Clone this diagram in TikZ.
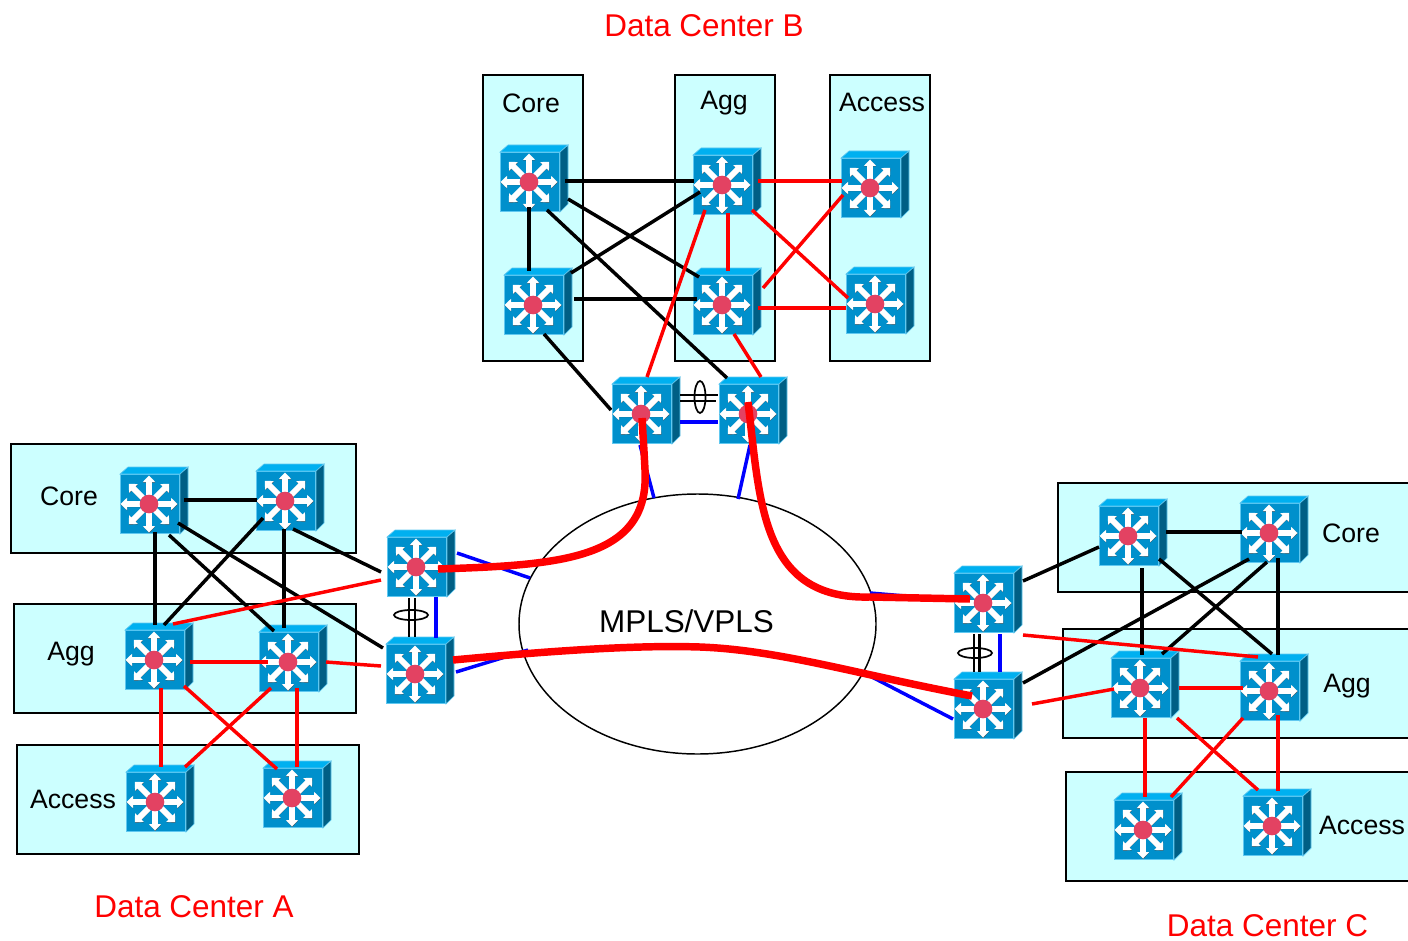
\documentclass[tikz,border=0pt]{standalone}
\usepackage{fontspec}
\setmainfont{Liberation Sans}
\definecolor{boxcyan}{HTML}{CCFFFF}
\definecolor{swface}{HTML}{0090CC}
\definecolor{swtop}{HTML}{00B0F0}
\definecolor{swside}{HTML}{005F85}
\definecolor{swedge}{HTML}{60C8F0}
\definecolor{swhub}{HTML}{E34262}
\definecolor{linkblue}{HTML}{0000FF}
\definecolor{linkred}{HTML}{FF0000}
\tikzset{
  x=.75pt,y=-.75pt,
  zonebox/.style={draw=black,fill=boxcyan,line width=1.1pt},
  swfront/.style={draw=swedge,fill=swface,line width=.7pt,minimum size=44.5pt,inner sep=0pt,outer sep=0pt},
  blk/.style={draw=black,line width=2.6pt},
  rd/.style={draw=linkred,line width=2.6pt},
  blu/.style={draw=linkblue,line width=2.6pt},
  pairline/.style={draw=black,line width=1.6pt},
  thickred/.style={draw=linkred,line width=5.6pt},
  bundle/.style={draw=black,line width=1.3pt},
  lbl/.style={font=\fontsize{20}{24}\selectfont,inner sep=0pt},
  bigred/.style={font=\fontsize{23.6}{28}\selectfont,text=linkred,inner sep=0pt},
  biglbl/.style={font=\fontsize{23.6}{28}\selectfont,inner sep=0pt},
  cloud/.style={draw=black,line width=1.1pt}
}
\newcommand{\swt}[3]{%
  \node[swfront] (#1) at (#2,#3) {};
  \begin{scope}[shift={(#2,#3)}]
    \fill[swtop,draw=swedge,line width=.5pt] (-30,-30) -- (-22,-37) -- (38,-37) -- (30,-30) -- cycle;
    \fill[swside,draw=swedge,line width=.5pt] (30,-30) -- (38,-37) -- (38,22) -- (30,30) -- cycle;
    \foreach \a in {0,45,...,315}{
      \fill[black!70,shift={(.2,.5)},rotate around={\a:(-1,0)}] (8,-2.6) -- (21,-2.6) -- (21,-6) -- (27.5,0) -- (21,6) -- (21,2.6) -- (8,2.6) -- cycle;
      \fill[white,rotate around={\a:(-1,0)}] (8,-2.9) -- (21,-2.9) -- (21,-6.2) -- (27.5,0) -- (21,6.2) -- (21,2.9) -- (8,2.9) -- cycle;
    }
    \fill[swhub] (-1,0) circle[radius=9.3];
  \end{scope}}
\newcommand{\lnk}[7]{\draw[#1] ([shift={(#3,#4)}]#2.center) -- ([shift={(#6,#7)}]#5.center);}
\begin{document}
\begin{tikzpicture}
\useasboundingbox (0,0) rectangle (1408,941);
% zones
\path[zonebox] (483,75) rectangle (583,361);
\path[zonebox] (675,75) rectangle (775,361);
\path[zonebox] (830,75) rectangle (930,361);
\path[zonebox] (11,444) rectangle (356,553);
\path[zonebox] (14,604) rectangle (356,713);
\path[zonebox] (17,745) rectangle (359,854);
\begin{scope}
\clip (0,0) rectangle (1408,941);
\path[zonebox] (1058,483) rectangle (1420,592);
\path[zonebox] (1063,629) rectangle (1420,738);
\path[zonebox] (1066,772) rectangle (1420,881);
\end{scope}
% cloud
\coordinate (mp) at (697.5,624);
\draw[cloud] (mp) ellipse[x radius=178.5,y radius=130];
% switches
\swt{a1}{150}{504}\swt{a2}{286}{501}\swt{a3}{155}{660}\swt{a4}{289}{662}\swt{a5}{156}{802}\swt{a6}{293}{798}
\swt{aw1}{417}{567}\swt{aw2}{416}{674}
\swt{b1}{530}{182}\swt{b2}{534}{305}\swt{b3}{723}{185}\swt{b4}{723}{305}\swt{b5}{871}{188}\swt{b6}{876}{304}
\swt{bw1}{642}{414}\swt{bw2}{749}{414}
\swt{c1}{1129}{536}\swt{c2}{1270}{533}\swt{c3}{1141}{688}\swt{c4}{1270}{691}\swt{c5}{1144}{830}\swt{c6}{1273}{826}
\swt{cw1}{984}{603}\swt{cw2}{984}{709}
% Data Center A
\lnk{blk}{a1}{34}{-4}{a2}{-29}{-1}
\lnk{blk}{a1}{5}{28}{a3}{0}{-35}
\lnk{blk}{a2}{-2}{28}{a4}{-5}{-34}
\lnk{blk}{a2}{-23}{17}{a3}{9}{-35}
\lnk{blk}{a1}{19}{31}{a4}{-15}{-31}
\lnk{blk}{a1}{28}{19}{aw2}{-33}{-26}
\lnk{blk}{a2}{7}{28}{aw1}{-36}{5}
\lnk{rd}{a3}{18}{-36}{aw1}{-36}{13}
\lnk{rd}{a3}{35}{2}{a4}{-21}{0}
\lnk{rd}{a4}{37}{0}{aw2}{-35}{-8}
\lnk{rd}{a3}{6}{28}{a5}{5}{-35}
\lnk{rd}{a4}{8}{26}{a6}{4}{-31}
\lnk{rd}{a3}{29}{26}{a6}{-16}{-29}
\lnk{rd}{a4}{-18}{26}{a5}{29}{-35}
\lnk{blu}{aw1}{40}{-14}{mp}{-167.5}{-46}
\lnk{blu}{aw2}{40}{-2}{mp}{-169.5}{26}
\lnk{blu}{aw1}{19}{30}{aw2}{20}{-36}
\lnk{pairline}{aw1}{-8}{31}{aw2}{-7}{-37}
\lnk{pairline}{aw1}{-2}{31}{aw2}{-1}{-37}
\draw[bundle] (411,615) ellipse[x radius=17,y radius=5];
% Data Center B
\lnk{blk}{b1}{35}{-1}{b3}{-29}{-4}
\lnk{blk}{b1}{-1}{25}{b2}{-5}{-34}
\lnk{blk}{b1}{38}{17}{b4}{-24}{-28}
\lnk{blk}{b3}{-23}{7}{b2}{37}{-32}
\lnk{blk}{b2}{40}{-6}{b4}{-26}{-6}
\lnk{blk}{b1}{17}{28}{bw2}{-22}{-36}
\lnk{blk}{b2}{10}{29}{bw1}{-31}{-4}
\lnk{rd}{b3}{-18}{25}{bw1}{5}{-37}
\lnk{rd}{b3}{5}{28}{b4}{5}{-34}
\lnk{rd}{b4}{11}{29}{bw2}{12}{-37}
\lnk{rd}{b3}{35}{-4}{b5}{-29}{-7}
\lnk{rd}{b3}{29}{25}{b6}{-28}{-6}
\lnk{rd}{b4}{40}{-17}{b5}{-28}{7}
\lnk{rd}{b4}{35}{3}{b6}{-30}{4}
\lnk{blu}{bw1}{38}{8}{bw2}{-31}{8}
\lnk{pairline}{bw1}{38}{-19}{bw2}{-31}{-19}
\lnk{pairline}{bw1}{38}{-13}{bw2}{-33}{-13}
\lnk{blu}{bw1}{-2}{31}{mp}{-43.5}{-126}
\lnk{blu}{bw2}{1}{31}{mp}{40.5}{-125}
\draw[bundle] (700,397) ellipse[x radius=5.5,y radius=16];
% Data Center C
\lnk{blk}{cw1}{39}{-22}{c1}{-30}{11}
\lnk{blk}{c1}{37}{-4}{c2}{-28}{-1}
\lnk{blk}{c1}{13}{32}{c3}{1}{-33}
\lnk{blk}{c2}{8}{25}{c4}{8}{-36}
\lnk{blk}{c1}{30}{23}{c4}{2}{-37}
\lnk{blk}{c2}{-3}{29}{c3}{21}{-34}
\lnk{blk}{c2}{-21}{26}{cw2}{39}{-26}
\lnk{rd}{cw1}{39}{32}{c4}{-12}{-34}
\lnk{rd}{cw2}{48}{-5}{c3}{-27}{1}
\lnk{rd}{c3}{38}{0}{c4}{-27}{-3}
\lnk{rd}{c3}{4}{30}{c5}{1}{-33}
\lnk{rd}{c4}{8}{24}{c6}{5}{-35}
\lnk{rd}{c3}{36}{30}{c6}{-15}{-36}
\lnk{rd}{c4}{-27}{27}{c5}{27}{-33}
\lnk{blu}{cw1}{16}{31}{cw2}{16}{-37}
\lnk{pairline}{cw1}{-10}{31}{cw2}{-10}{-37}
\lnk{pairline}{cw1}{-4.5}{31}{cw2}{-4.5}{-37}
\lnk{blu}{mp}{172.5}{-31}{cw1}{-31}{-3}
\lnk{blu}{mp}{170.5}{51}{cw2}{-31}{10}
\draw[bundle] (975,653) ellipse[x radius=17,y radius=5];
% thick paths
\draw[thickred] ([shift={(21,2)}]aw1.center) .. controls (560,565) and (650,560) .. (645,470) .. controls (644,450) and (643,435) .. ([shift={(0,4)}]bw1.center);
\draw[thickred] ([shift={(-1,-12)}]bw2.center) .. controls (760,500) and (760,600) .. (870,597) -- ([shift={(-14,-4)}]cw1.center);
\draw[thickred] ([shift={(37,-14)}]aw2.center) .. controls (560,650) and (640,645) .. (700,647) .. controls (780,650) and (860,675) .. ([shift={(-12,-13)}]cw2.center);
% labels
\node[bigred] (tb) at (704,26) {Data Center B};
\node[bigred] (ta) at (194,907) {Data Center A};
\node[bigred] (tc) at (1267.5,926) {Data Center C};
\node[biglbl] (tm) at (686.5,621) {MPLS/VPLS};
\node[lbl] (l1) at (531,103) {Core};
\node[lbl] (l2) at (724,103) {Agg};
\node[lbl] (l3) at (882,102) {Access};
\node[lbl] (l4) at (69,496) {Core};
\node[lbl] (l5) at (71,654) {Agg};
\node[lbl] (l6) at (73,799) {Access};
\node[lbl] (l7) at (1351,533) {Core};
\node[lbl] (l8) at (1347,686) {Agg};
\node[lbl] (l9) at (1362,825) {Access};
\end{tikzpicture}
\end{document}
